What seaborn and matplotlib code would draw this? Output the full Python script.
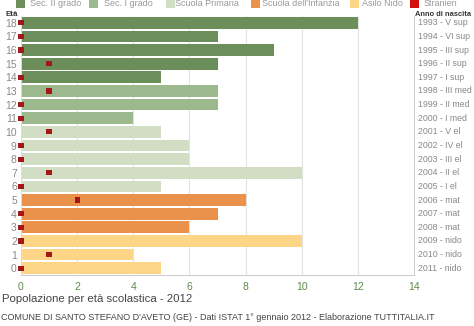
import matplotlib
matplotlib.use("Agg")
import matplotlib.pyplot as plt
import matplotlib.transforms as mtransforms
from matplotlib.patches import Rectangle
import seaborn as sns
import pandas as pd

ages = [18, 17, 16, 15, 14, 13, 12, 11, 10, 9, 8, 7, 6, 5, 4, 3, 2, 1, 0]
totals = [12, 7, 9, 7, 5, 7, 7, 4, 5, 6, 6, 10, 5, 8, 7, 6, 10, 4, 5]
stranieri = [0, 0, 0, 1, 0, 1, 0, 0, 1, 0, 0, 1, 0, 2, 0, 0, 0, 1, 0]
levels = ["Sec. II grado"] * 5 + ["Sec. I grado"] * 3 + ["Scuola Primaria"] * 5 + \
         ["Scuola dell'Infanzia"] * 3 + ["Asilo Nido"] * 3
right_labels = ["1993 - V sup", "1994 - VI sup", "1995 - III sup", "1996 - II sup",
                "1997 - I sup", "1998 - III med", "1999 - II med", "2000 - I med",
                "2001 - V el", "2002 - IV el", "2003 - III el", "2004 - II el",
                "2005 - I el", "2006 - mat", "2007 - mat", "2008 - mat",
                "2009 - nido", "2010 - nido", "2011 - nido"]
level_names = ["Sec. II grado", "Sec. I grado", "Scuola Primaria",
               "Scuola dell'Infanzia", "Asilo Nido"]
level_colors = ["#6b8e5a", "#9bb98c", "#d2dec4", "#ea924c", "#fdd587"]
red = "#a51616"
xticks = [0, 2, 4, 6, 8, 10, 12, 14]
legend_labels = level_names + ["Stranieri"]
legend_colors = level_colors + ["#d40f0f"]

df = pd.DataFrame({"age": ages, "tot": totals, "str": stranieri, "level": levels})

sns.set_style("white")
plt.rcParams["font.family"] = ["Liberation Sans", "DejaVu Sans"]

W, H = 474, 326
fig = plt.figure(figsize=(W / 100, H / 100), dpi=100)
ax = fig.add_axes([21 / W, 1 - 275 / H, (414 - 21) / W, (275 - 16) / H])

for xv in xticks[1:-1]:
    ax.axvline(xv, color="#e3e3e3", lw=0.8, zorder=0)

sns.barplot(data=df, x="tot", y="age", hue="level", orient="h", native_scale=True,
            hue_order=level_names, palette=dict(zip(level_names, level_colors)),
            dodge=False, width=0.86, ax=ax, legend=False, saturation=1,
            edgecolor="none", linewidth=0, zorder=2)

sns.scatterplot(data=df, x="str", y="age", marker="s", color=red, s=14,
                edgecolor="none", ax=ax, zorder=5, legend=False)
for c in ax.collections:
    c.set_clip_on(False)

ax.set_xlim(0, 14)
ax.set_ylim(-0.5, 18.5)
ax.set_xticks(xticks)
ax.set_yticks(ages)
ax.set_yticklabels([str(a) for a in ages])
ax.set_xlabel("")
ax.set_ylabel("")
ax.tick_params(axis="x", colors="#cccccc", labelsize=7.5, length=3, width=0.6,
               pad=2, labelcolor="#5e8a4c")
ax.tick_params(axis="y", length=0, labelsize=7.5, labelcolor="#888888", pad=3)
ax.spines["top"].set_visible(False)
ax.spines["left"].set_color("#dddddd")
ax.spines["bottom"].set_color("#cccccc")
ax.spines["right"].set_color("#cccccc")
for s in ["left", "bottom", "right"]:
    ax.spines[s].set_linewidth(0.7)

trans = mtransforms.blended_transform_factory(ax.transAxes, ax.transData)
for a, lab in zip(ages, right_labels):
    ax.text(1.01, a, lab, transform=trans, ha="left", va="center",
            fontsize=6.3, color="#888888")

fig.text(5 / W, 1 - 14 / H, "Età", fontsize=5.8, fontweight="bold",
         color="#333333", ha="left", va="center")
fig.text(415 / W, 1 - 14 / H, "Anno di nascita", fontsize=5.4, fontweight="bold",
         color="#333333", ha="left", va="center")

sq_x = [16, 89, 166, 251, 350, 410]
txt_x = [30, 104, 175, 262, 362, 424]
for sx, tx, lab, col in zip(sq_x, txt_x, legend_labels, legend_colors):
    fig.patches.append(Rectangle((sx / W, 1 - 8 / H), 9 / W, 10 / H,
                                 transform=fig.transFigure, facecolor=col,
                                 edgecolor="none"))
    fig.text(tx / W, 1 - 4 / H, lab, fontsize=6.5, color="#999999",
             ha="left", va="center")

fig.text(2 / W, 1 - 299 / H, "Popolazione per età scolastica - 2012",
         fontsize=8.2, color="#444444", ha="left", va="center")
fig.text(1 / W, 1 - 318 / H,
         "COMUNE DI SANTO STEFANO D'AVETO (GE) - Dati ISTAT 1° gennaio 2012 - Elaborazione TUTTITALIA.IT",
         fontsize=6.5, color="#444444", ha="left", va="center")

fig.savefig("out.png", dpi=100)
